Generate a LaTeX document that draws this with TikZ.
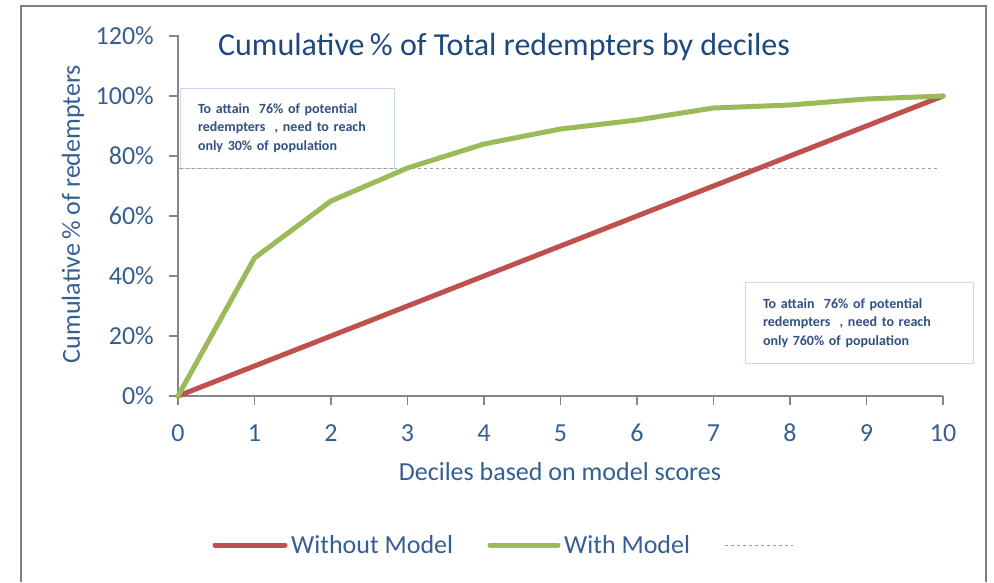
\documentclass[tikz,border=0pt]{standalone}
\usepackage{fontspec}
\setmainfont{Carlito}
\usepackage{xcolor}
\definecolor{titleblue}{RGB}{31,73,125}
\definecolor{labelblue}{RGB}{54,95,145}
\definecolor{noteblue}{RGB}{50,80,128}
\definecolor{boxblue}{RGB}{198,217,241}
\definecolor{axisgray}{RGB}{134,134,134}
\definecolor{framegray}{RGB}{128,128,128}
\definecolor{redline}{RGB}{192,80,77}
\definecolor{greenline}{RGB}{155,187,89}
\usetikzlibrary{arrows}

\tikzset{
  ticklabel/.style={text=labelblue,font=\fontsize{26}{29}\selectfont,inner sep=0pt},
  axistitle/.style={text=labelblue,font=\fontsize{26}{30}\selectfont,inner sep=0pt},
  notebox/.style={draw=boxblue,line width=1pt,fill=white,text=noteblue,
    font=\bfseries\fontsize{14}{18.5}\selectfont,align=left,inner ysep=0pt},
  seriesline/.style={line width=5pt,line join=round,line cap=round},
  refline/.style={draw=axisgray!80,line width=0.9pt,dash pattern=on 3pt off 3pt}
}

\begin{document}
\begin{tikzpicture}[x=1pt,y=-1pt]
\useasboundingbox (0,0) rectangle (994,582);
\fill[white] (0,0) rectangle (994,582);
\draw[framegray,line width=2pt] (21,582)--(21,6)--(986,6)--(986,582);

% title
\node[text=titleblue,font=\fontsize{32}{36}\selectfont] (title) at (504,47)
  {Cumulative\,\% of Total redempters by deciles};

% axes
\coordinate (origin) at (178,396);
\coordinate (ytop) at (178,35);
\coordinate (xend) at (943,396);
\draw[axisgray,line width=1.2pt] (ytop)--(origin)--(xend);
\foreach \p in {0,20,...,120}{
  \draw[axisgray,line width=1.2pt] (169,396-3*\p)--(178,396-3*\p);
  \node[ticklabel,anchor=east] (ylab\p) at (154,396-3*\p) {\p\%};
}
\foreach \d in {0,...,10}{
  \draw[axisgray,line width=1.2pt] (178+76.5*\d,396)--(178+76.5*\d,405);
  \node[ticklabel] (xlab\d) at (178+76.5*\d,433) {\d};
}
\node[axistitle] (xtitle) at (560,472) {Deciles based on model scores};
\node[axistitle,rotate=90] (ytitle) at (73,214) {Cumulative\,\% of redempters};

% 76% reference
\coordinate (refstart) at (178,168);
\coordinate (refend) at (940,168);
\draw[refline] (refstart)--(refend);

% series
\begin{scope}[shift={(178,396)},x=76.5pt,y=3pt]
\draw[seriesline,redline] (0,0)--(10,100);
\draw[seriesline,greenline] (0,0)--(1,46)--(2,65)--(3,76)--(4,84)--(5,89)
  --(6,92)--(7,96)--(8,97)--(9,99)--(10,100);
\end{scope}

% notes
\node[notebox,minimum width=214pt,minimum height=80pt,text width=178pt] (note1) at (287,128)
  {To attain\ \ 76\% of potential\\redempters\ \ , need\ to reach\\only\ 30\% of population};
\draw[refline] (180,168)--(394,168);
\node[notebox,minimum width=228pt,minimum height=81pt,text width=192pt] (note2) at (859,323)
  {To attain\ \ 76\% of potential\\redempters\ \ , need\ to reach\\only\ 760\% of population};

% legend
\draw[seriesline,redline] (215,545)--(285,545);
\node[axistitle,anchor=west] (leg1) at (291,545) {Without Model};
\draw[seriesline,greenline] (490,545)--(558,545);
\node[axistitle,anchor=west] (leg2) at (564,545) {With Model};
\draw[refline] (725,545)--(793,545);
\end{tikzpicture}
\end{document}
